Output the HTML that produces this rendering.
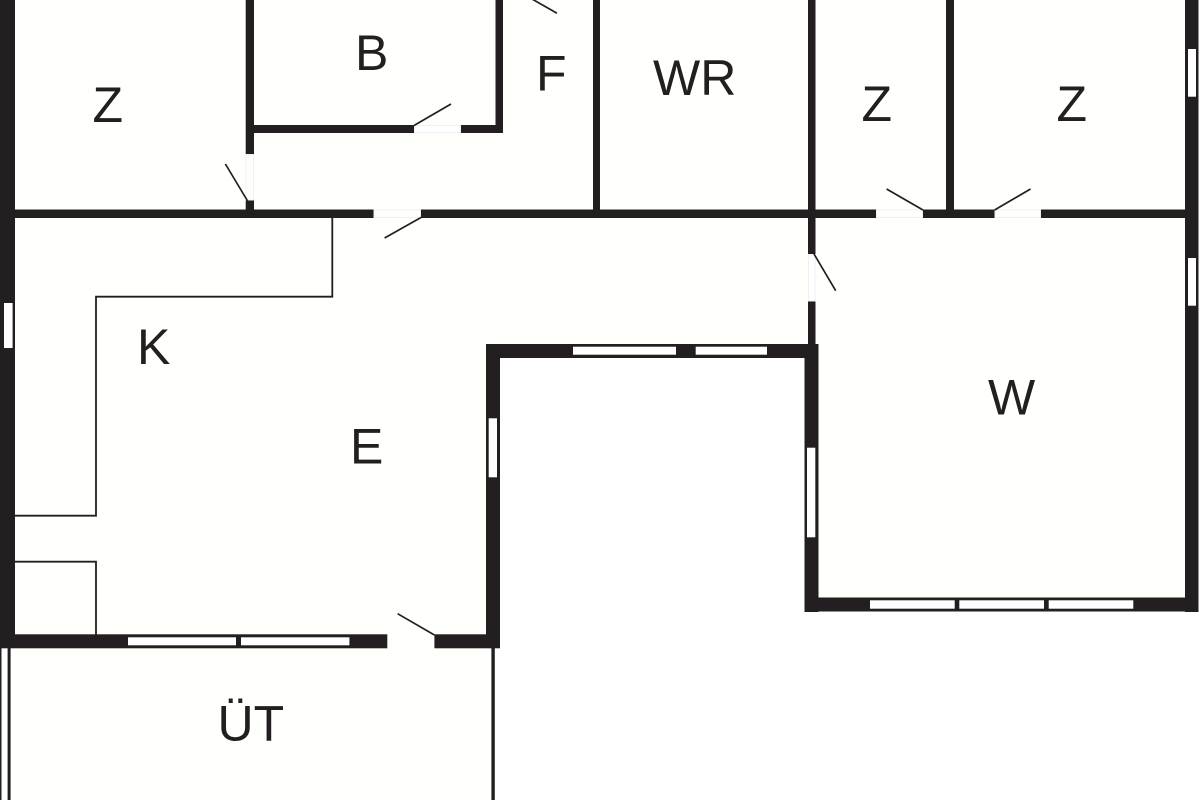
<!DOCTYPE html>
<html>
<head>
<meta charset="utf-8">
<title>Floor plan</title>
<style>
html,body{margin:0;padding:0;background:#fff;width:1200px;height:800px;overflow:hidden}
svg{display:block}
text{font-family:"Liberation Sans",sans-serif;font-size:50px;fill:#231f20}
</style>
</head>
<body>
<svg width="1200" height="800" viewBox="0 0 1200 800" xmlns="http://www.w3.org/2000/svg">
  <!-- floor -->
  <polygon fill="#fffffb" points="0,0 1198,0 1198,611 805,611 805,358 499,358 499,800 0,800"/>

  <!-- thick walls -->
  <g fill="#231f20">
    <rect x="0" y="0" width="15" height="648"/>
    <rect x="1185" y="0" width="13.5" height="612"/>
    <rect x="15" y="209.5" width="358.500" height="8.500"/>
    <rect x="421" y="209.500" width="455" height="8.500"/>
    <rect x="923" y="209.500" width="71.500" height="8.500"/>
    <rect x="1041" y="209.500" width="145" height="8.500"/>
    <rect x="245.700" y="0" width="8.300" height="154"/>
    <rect x="245.700" y="200.500" width="8.300" height="10"/>
    <rect x="254" y="125" width="160" height="8"/>
    <rect x="461" y="125" width="42" height="8"/>
    <rect x="495.500" y="0" width="7.500" height="133"/>
    <rect x="593" y="0" width="7" height="210"/>
    <rect x="808" y="0" width="7.500" height="254"/>
    <rect x="808" y="301.500" width="7.500" height="44"/>
    <rect x="946" y="0" width="8" height="210"/>
    <rect x="486" y="344" width="332" height="14"/>
    <rect x="486" y="344" width="14" height="304"/>
    <rect x="804.500" y="344" width="14" height="268"/>
    <rect x="804.500" y="597.500" width="394" height="14"/>
    <rect x="0" y="634.300" width="387.300" height="14"/>
    <rect x="434.400" y="634.300" width="65.400" height="14"/>
    <rect x="0" y="648" width="1.500" height="152"/>
    <rect x="7.600" y="648" width="3" height="152"/>
    <rect x="491.400" y="648" width="3.400" height="152"/>
  </g>

  <!-- door openings -->
  <g fill="#ffffff" stroke="#ececea" stroke-width="0.8">
    <rect x="373.900" y="209.900" width="46.700" height="7.700"/>
    <rect x="414.400" y="125.400" width="46.200" height="7.200"/>
    <rect x="876.400" y="209.900" width="46.200" height="7.700"/>
    <rect x="994.900" y="209.900" width="45.700" height="7.700"/>
    <rect x="246.100" y="154.400" width="7.500" height="45.700"/>
    <rect x="808.400" y="254.400" width="6.700" height="46.700"/>
  </g>

  <!-- windows -->
  <g fill="#ffffff">
    <rect x="4" y="303" width="8.600" height="45"/>
    <rect x="1188" y="49" width="8" height="47.700"/>
    <rect x="1188" y="258" width="8" height="47.700"/>
    <rect x="573" y="346.700" width="103" height="8"/>
    <rect x="695.700" y="346.700" width="71.300" height="8"/>
    <rect x="488.700" y="418.300" width="8.300" height="59"/>
    <rect x="807" y="447.700" width="8.300" height="89.600"/>
    <rect x="870" y="600.300" width="84.700" height="8.400"/>
    <rect x="959.300" y="600.300" width="84.700" height="8.400"/>
    <rect x="1048.700" y="600.300" width="84.600" height="8.400"/>
    <rect x="128" y="637.300" width="108" height="8"/>
    <rect x="241" y="637.300" width="108.400" height="8"/>
  </g>

  <!-- thin kitchen lines -->
  <g fill="none" stroke="#231f20" stroke-width="1.800">
    <polyline points="332.300,218 332.300,296.700 96,296.700 96,515.700 15,515.700"/>
    <polyline points="15,561.700 96,561.700 96,635"/>
  </g>

  <!-- door swings -->
  <g stroke="#231f20" stroke-width="1.700" fill="none">
    <line x1="532" y1="-1" x2="557" y2="13.300"/>
    <line x1="414" y1="125.500" x2="451" y2="104"/>
    <line x1="247.600" y1="201" x2="225.400" y2="164"/>
    <line x1="421" y1="217.500" x2="384.600" y2="238"/>
    <line x1="923" y1="210" x2="886.600" y2="189"/>
    <line x1="994.600" y1="210" x2="1030.500" y2="189"/>
    <line x1="814" y1="254" x2="835.700" y2="290.700"/>
    <line x1="434.400" y1="635" x2="397.600" y2="613.700"/>
  </g>

  <!-- labels -->
  <text x="92.500" y="122">Z</text>
  <text x="355" y="70">B</text>
  <text x="536" y="90.500">F</text>
  <text x="137" y="364">K</text>
  <text x="653" y="95">WR</text>
  <text x="861.500" y="121">Z</text>
  <text x="1056.500" y="121">Z</text>
  <text x="988" y="414.500">W</text>
  <text x="350" y="463.500">E</text>
  <text x="217.500" y="740.500">ÜT</text>
</svg>
</body>
</html>
